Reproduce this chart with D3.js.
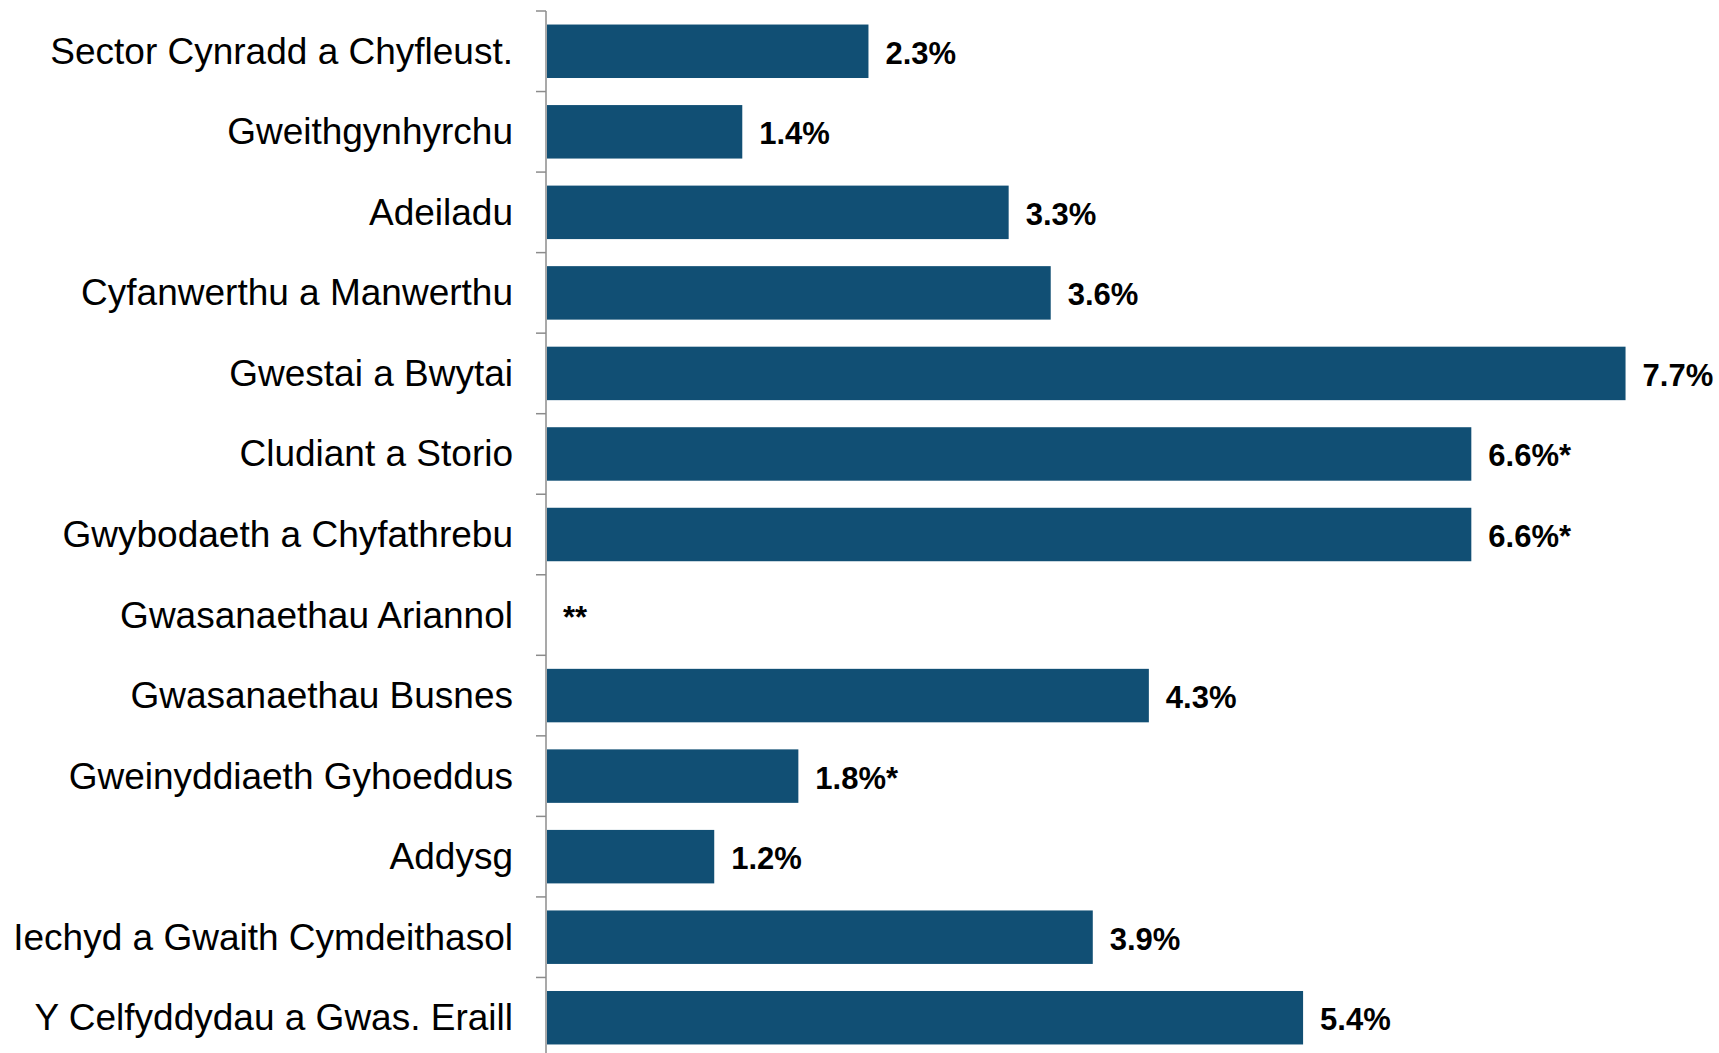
<!DOCTYPE html>
<html>
<head>
<meta charset="utf-8">
<script src="https://cdn.jsdelivr.net/npm/d3@7"></script>
<style>
  html, body { margin: 0; padding: 0; background: #fff; overflow: hidden; }
  svg { display: block; font-family: "Liberation Sans", Arial, sans-serif; }
</style>
</head>
<body>
<div id="chart"></div>
<script>
var categories = [
  'Sector Cynradd a Chyfleust.',
  'Gweithgynhyrchu',
  'Adeiladu',
  'Cyfanwerthu a Manwerthu',
  'Gwestai a Bwytai',
  'Cludiant a Storio',
  'Gwybodaeth a Chyfathrebu',
  'Gwasanaethau Ariannol',
  'Gwasanaethau Busnes',
  'Gweinyddiaeth Gyhoeddus',
  'Addysg',
  'Iechyd a Gwaith Cymdeithasol',
  'Y Celfyddydau a Gwas. Eraill'
];
var values = [2.3, 1.4, 3.3, 3.6, 7.7, 6.6, 6.6, null, 4.3, 1.8, 1.2, 3.9, 5.4];
var flags = ['', '', '', '', '', '*', '*', '**', '', '*', '', '', ''];

var width = 1719, height = 1053;
// plot area runs a little past the bottom edge, as in the original
var margin = {top: 11, left: 546, bottom: -5};

var svg = d3.select('#chart').append('svg')
  .attr('width', width)
  .attr('height', height);

var x = d3.scaleLinear().domain([0, 8]).range([margin.left, margin.left + 8 * 140.2]);
var y = d3.scaleBand().domain(categories)
  .range([margin.top, height - margin.bottom])
  .paddingInner(0.336)
  .paddingOuter(0.168);

var rows = categories.map(function (c, i) {
  return {cat: c, value: values[i], flag: flags[i]};
});

// bars
svg.append('g').selectAll('rect')
  .data(rows.filter(function (d) { return d.value != null; }))
  .enter().append('rect')
  .attr('x', x(0) + 1)
  .attr('y', function (d) { return y(d.cat); })
  .attr('width', function (d) { return x(d.value) - x(0) - 1; })
  .attr('height', y.bandwidth())
  .attr('fill', '#114f74');

// axis line + ticks at band boundaries
var step = y.step();
var axis = svg.append('g').attr('stroke', '#8c8c8c').attr('stroke-width', 1.5);
axis.append('line')
  .attr('x1', x(0)).attr('x2', x(0))
  .attr('y1', margin.top).attr('y2', height);
var bounds = d3.range(categories.length + 1).map(function (i) { return margin.top + i * step; });
axis.selectAll('line.tick')
  .data(bounds)
  .enter().append('line')
  .attr('class', 'tick')
  .attr('x1', x(0) - 10).attr('x2', x(0))
  .attr('y1', function (d) { return d; })
  .attr('y2', function (d) { return d; });

// category labels
svg.append('g').selectAll('text')
  .data(rows)
  .enter().append('text')
  .attr('x', 513)
  .attr('y', function (d) { return y(d.cat) + y.bandwidth() / 2; })
  .attr('text-anchor', 'end')
  .attr('dominant-baseline', 'central')
  .style('font-size', '37px')
  .attr('fill', '#000')
  .text(function (d) { return d.cat; });

// value labels
svg.append('g').selectAll('text')
  .data(rows)
  .enter().append('text')
  .attr('x', function (d) { return x(d.value || 0) + 17; })
  .attr('y', function (d) { return y(d.cat) + y.bandwidth() / 2 + 2; })
  .attr('dominant-baseline', 'central')
  .style('font-size', '31px')
  .style('font-weight', 'bold')
  .attr('fill', '#000')
  .text(function (d) {
    return d.value == null ? d.flag : d.value.toFixed(1) + '%' + d.flag;
  });
</script>
</body>
</html>
